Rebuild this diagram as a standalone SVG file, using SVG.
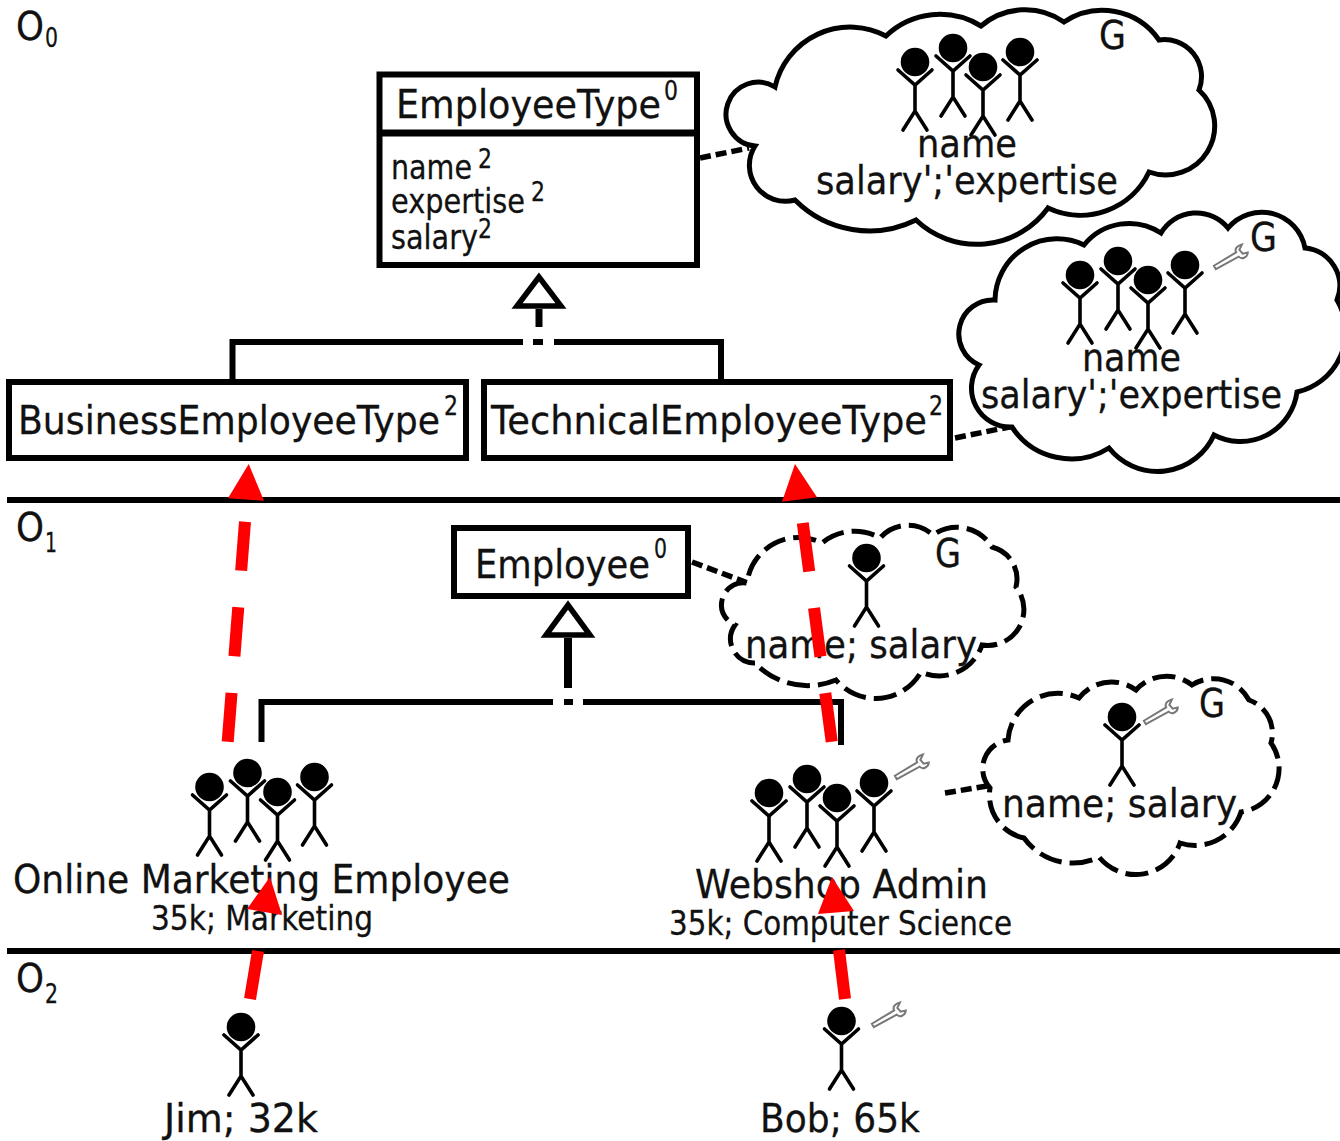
<svg xmlns="http://www.w3.org/2000/svg" xmlns:xlink="http://www.w3.org/1999/xlink" width="1340" height="1141" viewBox="0 0 1340 1141">
<style>
text{font-family:"DejaVu Sans","Liberation Sans",sans-serif;fill:#111;font-size:39px;stroke:#111;stroke-width:.3}
.s{font-size:34px}
.u{font-size:27px}
.box{fill:#fff;stroke:#000;stroke-width:6}
.cl{fill:#fff;stroke:#000;stroke-width:5;stroke-linejoin:miter}
.da{stroke-dasharray:23 8}
.ln{fill:none;stroke:#000;stroke-width:6}
.tri{fill:#fff;stroke:#000;stroke-width:5.500;stroke-linejoin:miter}
.dsh{fill:none;stroke:#000;stroke-width:5.500;stroke-dasharray:11 5}
.red{stroke:#f00;stroke-width:12;fill:none}
.redh{fill:#f00}
</style>
<defs>
<g id="p"><circle r="14.3" fill="#000"/><path d="M-17,8L0,23L17,8M0,23V49M-12,68L0,49L12,68" fill="none" stroke="#000" stroke-width="3.6" stroke-linecap="round"/></g>
<g id="ps"><use xlink:href="#p" x="0" y="14"/><use xlink:href="#p" x="38" y="0"/><use xlink:href="#p" x="68" y="19"/><use xlink:href="#p" x="105" y="4"/></g>
<path id="w" d="M1,-2L27,-2.500C27,-6 31,-8 36,-6.500L31,-3L32,2L37,3.500C34,8 28,6.500 27,2.500L1,2Z" fill="#fff" stroke="#777" stroke-width="2"/>
</defs>
<rect width="1340" height="1141" fill="#fff"/>
<g id="levels">
<path class="ln" d="M7,500H1340M7,951H1340"/>
<text x="16" y="40" textLength="28" lengthAdjust="spacingAndGlyphs">O</text><text class="u" x="45" y="47" textLength="13" lengthAdjust="spacingAndGlyphs">0</text>
<text x="16" y="541" textLength="28" lengthAdjust="spacingAndGlyphs">O</text><text class="u" x="45" y="552" textLength="12" lengthAdjust="spacingAndGlyphs">1</text>
<text x="16" y="992" textLength="28" lengthAdjust="spacingAndGlyphs">O</text><text class="u" x="45" y="1003" textLength="13" lengthAdjust="spacingAndGlyphs">2</text>
</g>
<g id="connectors">
<path class="tri" d="M539,277L517,306H561Z"/>
<path class="ln" style="stroke-width:7" d="M539,309V327"/>
<path class="ln" d="M232.500,382V342H523M533,342H543M554,342H721V382"/>
<path class="tri" d="M568,605L546,635H590Z"/>
<path class="ln" style="stroke-width:8" d="M568,638V688"/>
<path class="ln" d="M261.500,742V702H553M564,702H573M583,702H841V745"/>
<path class="dsh" d="M700,158L749,148"/>
<path class="dsh" d="M955,438L1014,426"/>
<path class="dsh" d="M692,562L748,583"/>
<path class="dsh" d="M945,793L987,786"/>
</g>
<g id="EmployeeType">
<rect class="box" x="379.500" y="74.500" width="317.500" height="190.500"/>
<path class="ln" style="stroke-width:7" d="M380,133H697"/>
<text x="396" y="118" textLength="265" lengthAdjust="spacingAndGlyphs">EmployeeType</text><text class="u" x="664" y="100" textLength="14" lengthAdjust="spacingAndGlyphs">0</text>
<text class="s" x="391" y="179" textLength="81" lengthAdjust="spacingAndGlyphs">name</text><text class="u" x="478" y="168" textLength="14" lengthAdjust="spacingAndGlyphs">2</text>
<text class="s" x="391" y="213" textLength="134" lengthAdjust="spacingAndGlyphs">expertise</text><text class="u" x="531" y="201" textLength="14" lengthAdjust="spacingAndGlyphs">2</text>
<text class="s" x="391" y="249" textLength="87" lengthAdjust="spacingAndGlyphs">salary</text><text class="u" x="478" y="238" textLength="14" lengthAdjust="spacingAndGlyphs">2</text>
</g>
<g id="BusinessEmployeeType">
<rect class="box" x="9" y="382" width="457" height="76"/>
<text x="18" y="434" textLength="422" lengthAdjust="spacingAndGlyphs">BusinessEmployeeType</text><text class="u" x="444" y="415" textLength="14" lengthAdjust="spacingAndGlyphs">2</text>
</g>
<g id="TechnicalEmployeeType">
<rect class="box" x="484" y="382" width="466" height="76"/>
<text x="491" y="434" textLength="436" lengthAdjust="spacingAndGlyphs">TechnicalEmployeeType</text><text class="u" x="929" y="415" textLength="14" lengthAdjust="spacingAndGlyphs">2</text>
</g>
<g id="Employee">
<rect class="box" x="454" y="528" width="234" height="68"/>
<text x="475" y="578" textLength="175" lengthAdjust="spacingAndGlyphs">Employee</text><text class="u" x="654" y="558" textLength="13" lengthAdjust="spacingAndGlyphs">0</text>
</g>
<g id="cloud-type">
<path class="cl" d="M755,146A32,32 0 1 1 775,87A77,77 0 0 1 886,36A78,78 0 0 1 981,26A68,68 0 0 1 1064,22A69,69 0 0 1 1159,40A37,37 0 0 1 1199,90A49,49 0 0 1 1149,172A76,76 0 0 1 1048,208A88,88 0 0 1 916,220A105,105 0 0 1 795,200A36,36 0 0 1 755,146Z"/>
<use xlink:href="#ps" x="915" y="48"/>
<text x="1099" y="49" textLength="27" lengthAdjust="spacingAndGlyphs">G</text>
<text x="917" y="157" textLength="100" lengthAdjust="spacingAndGlyphs">name</text>
<text x="816" y="194" textLength="302" lengthAdjust="spacingAndGlyphs">salary';'expertise</text>
</g>
<g id="cloud-technical">
<path class="cl" d="M979,365A34,34 0 0 1 995,300A62,62 0 0 1 1084,245A58,58 0 0 1 1161,233A41,41 0 0 1 1228,228A44,44 0 0 1 1305,248A38,38 0 0 1 1337,300A62,62 0 0 1 1297,392A57,57 0 0 1 1214,435A62,62 0 0 1 1109,448A71,71 0 0 1 1012,427A39,39 0 0 1 979,365Z"/>
<use xlink:href="#ps" x="1080" y="261"/>
<use xlink:href="#w" transform="translate(1214,268) rotate(-30)"/>
<text x="1250" y="251" textLength="27" lengthAdjust="spacingAndGlyphs">G</text>
<text x="1082" y="371" textLength="99" lengthAdjust="spacingAndGlyphs">name</text>
<text x="981" y="408" textLength="301" lengthAdjust="spacingAndGlyphs">salary';'expertise</text>
</g>
<g id="cloud-employee">
<path class="cl da" d="M755,663A24,24 0 0 1 735,625A22,22 0 0 1 747,583A52,52 0 0 1 822,543A51,51 0 0 1 880,538A37,37 0 0 1 933,535A41,41 0 0 1 992,547A33,33 0 0 1 1016,587A36,36 0 0 1 982,645A45,45 0 0 1 921,672A52,52 0 0 1 836,680A73,73 0 0 1 755,663Z"/>
<use xlink:href="#p" x="866.500" y="558"/>
<text x="935" y="567" textLength="26" lengthAdjust="spacingAndGlyphs">G</text>
<text x="745" y="658" textLength="232" lengthAdjust="spacingAndGlyphs">name; salary</text>
</g>
<g id="cloud-webshop">
<path class="cl da" d="M1024,838A44,44 0 0 1 990,788A29,29 0 0 1 1008,740A50,50 0 0 1 1079,698A41,41 0 0 1 1136,690A41,41 0 0 1 1192,685A40,40 0 0 1 1249,700A35,35 0 0 1 1271,743A44,44 0 0 1 1241,812A48,48 0 0 1 1180,843A47,47 0 0 1 1099,857A60,60 0 0 1 1024,838Z"/>
<use xlink:href="#p" x="1122" y="717"/>
<use xlink:href="#w" transform="translate(1144,723) rotate(-30)"/>
<text x="1199" y="717" textLength="26" lengthAdjust="spacingAndGlyphs">G</text>
<text x="1002" y="817" textLength="235" lengthAdjust="spacingAndGlyphs">name; salary</text>
</g>
<g id="OnlineMarketingEmployee">
<use xlink:href="#ps" x="209.500" y="773"/>
<text x="13" y="893" textLength="497" lengthAdjust="spacingAndGlyphs">Online Marketing Employee</text>
<text class="s" x="151" y="930" textLength="222" lengthAdjust="spacingAndGlyphs">35k; Marketing</text>
</g>
<g id="WebshopAdmin">
<use xlink:href="#ps" x="769" y="779"/>
<use xlink:href="#w" transform="translate(895,778) rotate(-30)"/>
<text x="695" y="898" textLength="293" lengthAdjust="spacingAndGlyphs">Webshop Admin</text>
<text class="s" x="669" y="935" textLength="343" lengthAdjust="spacingAndGlyphs">35k; Computer Science</text>
</g>
<g id="Jim">
<use xlink:href="#p" x="241" y="1027"/>
<text x="164" y="1132" textLength="154" lengthAdjust="spacingAndGlyphs">Jim; 32k</text>
</g>
<g id="Bob">
<use xlink:href="#p" x="841.500" y="1021"/>
<use xlink:href="#w" transform="translate(872,1026) rotate(-30)"/>
<text x="760" y="1132" textLength="160" lengthAdjust="spacingAndGlyphs">Bob; 65k</text>
</g>
<g id="instantiation">
<path class="red" stroke-dasharray="49 36.800" d="M227.700,741.700L245,521.700"/>
<polygon class="redh" points="248.700,464 228,498.300 264,500.700"/>
<path class="red" stroke-dasharray="49 36.800" d="M831.700,741.700L802.700,522.300"/>
<polygon class="redh" points="795,464 782,501.700 817,497.300"/>
<path class="red" d="M250,999L258,951"/>
<polygon class="redh" points="270,877 247,909 282,915"/>
<path class="red" d="M845,999L839,950"/>
<polygon class="redh" points="832,877 818,914 854,911"/>
</g>
</svg>
